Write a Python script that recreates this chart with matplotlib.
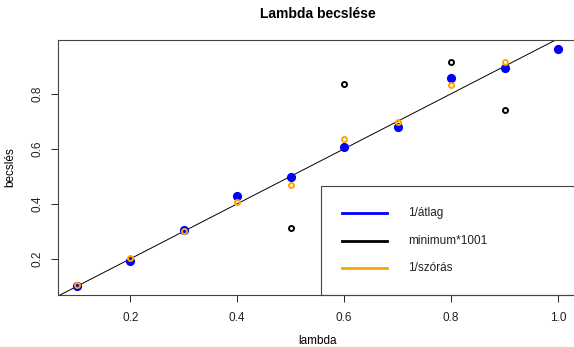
import numpy as np
import matplotlib
matplotlib.use("Agg")
import matplotlib.pyplot as plt
from matplotlib.lines import Line2D
from matplotlib.patches import Rectangle

plt.rcParams['font.family'] = ['Liberation Sans', 'DejaVu Sans']

lam = [0.1, 0.2, 0.3, 0.4, 0.5, 0.6, 0.7, 0.8, 0.9, 1.0]
est_mean = [0.103, 0.193, 0.304, 0.428, 0.497, 0.606, 0.680, 0.857, 0.895, 0.961]
est_min = [np.nan, np.nan, np.nan, np.nan, 0.313, 0.836, np.nan, 0.915, 0.742, np.nan]
est_sd = [0.105, 0.202, 0.302, 0.408, 0.468, 0.637, 0.699, 0.831, 0.915, np.nan]

labels = ["1/átlag", "minimum*1001", "1/szórás"]
colors = ["#0000FF", "#000000", "#FFA500"]
xticks = [0.2, 0.4, 0.6, 0.8, 1.0]
yticks = [0.2, 0.4, 0.6, 0.8]

fig = plt.figure(figsize=(5.74, 3.47), dpi=100)
ax = fig.add_axes([0.1002, 0.1499, 0.9056, 0.7348])
ax.set_xlim(0.064, 1.036)
ax.set_ylim(0.0687, 0.9953)

ax.plot([0, 1.2], [0, 1.2], color='black', lw=0.7, zorder=1)
ax.plot(lam, est_mean, 'o', color=colors[0], ms=5.6, mec=colors[0], zorder=2)
ax.plot(lam, est_min, 'o', mfc='none', mec=colors[1], ms=3.6, mew=1.4, zorder=3)
ax.plot(lam, est_sd, 'o', mfc='none', mec=colors[2], ms=3.6, mew=1.4, zorder=4)

ax.set_xticks(xticks)
ax.set_xticklabels([f"{v:.1f}" for v in xticks])
ax.set_yticks(yticks)
ax.set_yticklabels([f"{v:.1f}" for v in yticks], rotation=90, va='center')
ax.tick_params(direction='out', length=5, width=0.7, labelsize=8.5, colors='#222222')
ax.tick_params(axis='x', pad=7)
ax.tick_params(axis='y', pad=5)
ax.spines['right'].set_visible(False)
for s in ax.spines.values():
    s.set_linewidth(0.8)
    s.set_color('#444444')

ax.set_title("Lambda becslése", fontsize=10, fontweight='bold', pad=16)
ax.set_xlabel("lambda", fontsize=8.5, labelpad=8)
ax.set_ylabel("becslés", fontsize=8.5, labelpad=11)

# legend box (bottom right, R style)
ax.add_patch(Rectangle((0.507, 0.0), 0.6, 0.4286, transform=ax.transAxes,
                       fill=False, ec='#444444', lw=0.8, zorder=5, clip_on=False))
ys = [0.320, 0.212, 0.106]
for lab, c, yy in zip(labels, colors, ys):
    ax.add_line(Line2D([0.547, 0.634], [yy, yy], transform=ax.transAxes,
                       color=c, lw=2.0, zorder=6))
    ax.text(0.674, yy, lab, transform=ax.transAxes, va='center', ha='left',
            fontsize=8.5, color='#222222', zorder=6)

fig.savefig("out.png", dpi=100)
